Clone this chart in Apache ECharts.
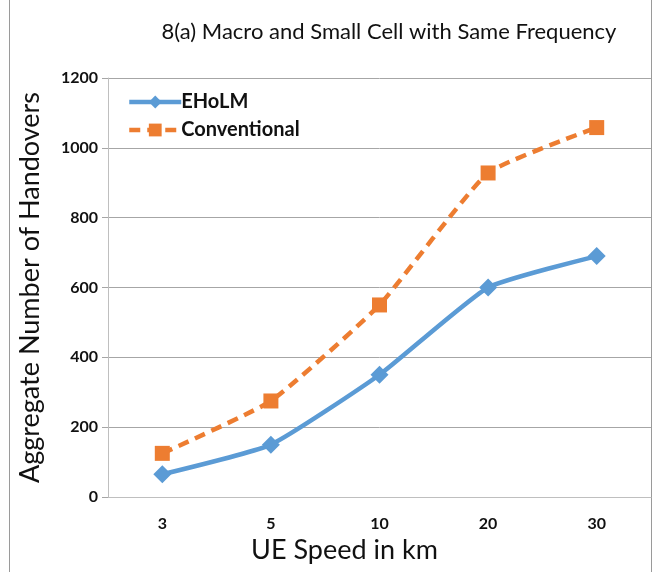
<!DOCTYPE html>
<html>
<head>
<meta charset="utf-8">
<script src="https://cdn.jsdelivr.net/npm/echarts@6/dist/echarts.min.js"></script>
<style>
html,body{margin:0;padding:0;background:#fff;}
#c{width:657px;height:572px;}
</style>
</head>
<body>
<div id="c"></div>
<script>
const categories = ['3', '5', '10', '20', '30'];
const eholm = [65, 150, 350, 600, 690];
const conventional = [125, 275, 550, 928, 1058];
const yTicks = [0, 200, 400, 600, 800, 1000, 1200];

const chart = echarts.init(document.getElementById('c'), null, {renderer: 'canvas'});
const font = 'Lato, "Open Sans", sans-serif';
chart.setOption({
  animation: false,
  backgroundColor: '#fff',
  title: {
    text: '8(a) Macro and Small Cell with Same Frequency',
    left: 384, top: 16, textAlign: 'center',
    textStyle: {fontFamily: font, fontSize: 22, fontWeight: 'normal', color: '#111'}
  },
  graphic: [
    {type: 'line', shape: {x1: 9.5, y1: 0, x2: 9.5, y2: 572}, style: {stroke: '#9a9a9a', lineWidth: 1}},
    {type: 'line', shape: {x1: 651.5, y1: 0, x2: 651.5, y2: 572}, style: {stroke: '#9a9a9a', lineWidth: 1}}
  ],
  legend: {
    orient: 'vertical', left: 122, top: 87, itemGap: 8,
    itemWidth: 52, itemHeight: 16,
    lineStyle: {width: 4.5},
    textStyle: {fontFamily: font, fontSize: 20, fontWeight: 'bold', color: '#111', padding: [0,0,0,-5]},
    data: ['EHoLM', 'Conventional']
  },
  grid: {left: 108, right: 6, top: 78, bottom: 75},
  xAxis: {
    type: 'category', data: categories, boundaryGap: true,
    name: 'UE Speed in km', nameLocation: 'middle', nameGap: 40,
    nameTextStyle: {fontFamily: font, fontSize: 27, color: '#111', padding: [0, 70, 0, 0]},
    axisLine: {lineStyle: {color: '#bfbfbf', width: 1}},
    axisTick: {show: false},
    axisLabel: {fontFamily: font, fontSize: 16, fontWeight: 'bold', color: '#111', margin: 19}
  },
  yAxis: {
    type: 'value', min: yTicks[0], max: yTicks[yTicks.length-1], interval: 200,
    name: 'Aggregate Number of Handovers', nameLocation: 'middle', nameGap: 64,
    nameTextStyle: {fontFamily: font, fontSize: 27, color: '#111'},
    axisLine: {show: true, lineStyle: {color: '#bfbfbf', width: 1}},
    axisTick: {show: true, length: 6, lineStyle: {color: '#a6a6a6'}},
    splitLine: {lineStyle: {color: '#a6a6a6', width: 1}},
    axisLabel: {fontFamily: font, fontSize: 16, fontWeight: 'bold', color: '#111', margin: 10,
      formatter: v => String(v)}
  },
  series: [
    {
      name: 'EHoLM', type: 'line', data: eholm, smooth: 0.15,
      symbol: 'diamond', symbolSize: 18,
      lineStyle: {color: '#5B9BD5', width: 4.5},
      itemStyle: {color: '#5B9BD5'}
    },
    {
      name: 'Conventional', type: 'line', data: conventional, smooth: 0.15,
      symbol: 'rect', symbolSize: 15,
      lineStyle: {color: '#ED7D31', width: 4.5, type: [11, 7]},
      itemStyle: {color: '#ED7D31'}
    }
  ]
});
</script>
</body>
</html>
